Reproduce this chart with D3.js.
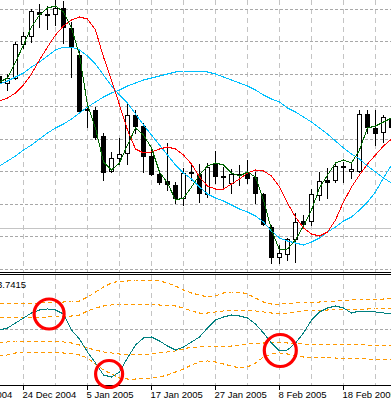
<!DOCTYPE html>
<html><head><meta charset="utf-8">
<script src="https://cdn.jsdelivr.net/npm/d3@7"></script>
<style>html,body{margin:0;padding:0;background:#fff;overflow:hidden}svg{display:block}</style>
</head><body><svg id="c" width="391" height="404"></svg>
<script>
// ---- data ----
const dates = ["21 Dec 2004","22 Dec 2004","23 Dec 2004","24 Dec 2004","27 Dec 2004","28 Dec 2004","29 Dec 2004","30 Dec 2004","31 Dec 2004",
"3 Jan 2005","4 Jan 2005","5 Jan 2005","6 Jan 2005","7 Jan 2005","10 Jan 2005","11 Jan 2005","12 Jan 2005","13 Jan 2005","14 Jan 2005","17 Jan 2005","18 Jan 2005","19 Jan 2005","20 Jan 2005","21 Jan 2005","24 Jan 2005","25 Jan 2005","26 Jan 2005","27 Jan 2005","28 Jan 2005","31 Jan 2005",
"1 Feb 2005","2 Feb 2005","3 Feb 2005","4 Feb 2005","7 Feb 2005","8 Feb 2005","9 Feb 2005","10 Feb 2005","11 Feb 2005","14 Feb 2005","15 Feb 2005","16 Feb 2005","17 Feb 2005","18 Feb 2005","21 Feb 2005","22 Feb 2005","23 Feb 2005","24 Feb 2005","25 Feb 2005","28 Feb 2005"];
const open  = [1.3422,1.3401,1.3416,1.3518,1.3542,1.3614,1.3608,1.3608,1.3626,1.3566,1.3485,1.3323,1.3320,1.3242,1.3137,1.3176,1.3191,1.3305,1.3272,1.3182,1.3128,1.3107,1.3095,1.3056,1.3134,1.3128,1.3068,1.3158,1.3122,1.3101,1.3128,1.3131,1.3119,1.3068,1.2969,1.2879,1.2888,1.2933,1.2987,1.2987,1.3065,1.3110,1.3110,1.3152,1.3137,1.3137,1.3308,1.3266,1.3254,1.3293];
const high  = [1.3431,1.3428,1.3524,1.3554,1.3623,1.3638,1.3632,1.3650,1.3647,1.3584,1.3500,1.3329,1.3329,1.3251,1.3194,1.3236,1.3341,1.3320,1.3281,1.3203,1.3134,1.3221,1.3104,1.3146,1.3158,1.3158,1.3161,1.3197,1.3149,1.3143,1.3155,1.3170,1.3134,1.3071,1.2975,1.2915,1.2936,1.3011,1.3005,1.3083,1.3134,1.3146,1.3164,1.3164,1.3164,1.3320,1.3320,1.3320,1.3305,1.3305];
const low   = [1.3392,1.3380,1.3413,1.3506,1.3524,1.3569,1.3563,1.3575,1.3521,1.3419,1.3314,1.3269,1.3233,1.3110,1.3134,1.3158,1.3158,1.3251,1.3134,1.3125,1.3098,1.3080,1.3041,1.3035,1.3110,1.3044,1.3059,1.3101,1.3086,1.3071,1.3095,1.3101,1.3041,1.2975,1.2861,1.2861,1.2870,1.2864,1.2975,1.2975,1.3050,1.3056,1.3104,1.3104,1.3116,1.3134,1.3251,1.3215,1.3224,1.3245];
const close = [1.3401,1.3416,1.3518,1.3542,1.3617,1.3608,1.3606,1.3626,1.3569,1.3509,1.3317,1.3321,1.3239,1.3134,1.3176,1.3188,1.3305,1.3272,1.3182,1.3128,1.3104,1.3098,1.3056,1.3131,1.3131,1.3071,1.3149,1.3122,1.3120,1.3128,1.3126,1.3116,1.3071,1.2978,1.2879,1.2891,1.2933,1.2984,1.2978,1.3068,1.3107,1.3104,1.3152,1.3150,1.3143,1.3308,1.3269,1.3251,1.3299,1.3269];
const maFast = [1.3404,1.3416,1.3464,1.3515,1.3569,1.3605,1.3626,1.3632,1.3614,1.3566,1.3485,1.3335,1.3266,1.3164,1.3140,1.3161,1.3215,1.3266,1.3245,1.3206,1.3134,1.3101,1.3050,1.3056,1.3089,1.3125,1.3152,1.3161,1.3155,1.3131,1.3122,1.3134,1.3119,1.3050,1.2960,1.2900,1.2903,1.2930,1.2972,1.3020,1.3086,1.3125,1.3161,1.3170,1.3161,1.3200,1.3266,1.3272,1.3284,1.3296];
const maRed = [1.3347,1.3356,1.3371,1.3395,1.3428,1.3470,1.3509,1.3545,1.3572,1.3590,1.3599,1.3593,1.3560,1.3479,1.3410,1.3335,1.3260,1.3203,1.3191,1.3194,1.3203,1.3209,1.3203,1.3185,1.3158,1.3119,1.3092,1.3083,1.3083,1.3098,1.3113,1.3131,1.3140,1.3137,1.3122,1.3089,1.3041,1.2999,1.2966,1.2948,1.2942,1.2954,1.2990,1.3044,1.3089,1.3125,1.3158,1.3185,1.3212,1.3233];
const maMid = [1.3398,1.3407,1.3419,1.3431,1.3449,1.3464,1.3482,1.3500,1.3509,1.3509,1.3500,1.3482,1.3458,1.3425,1.3392,1.3365,1.3341,1.3308,1.3275,1.3245,1.3215,1.3185,1.3155,1.3131,1.3113,1.3089,1.3068,1.3056,1.3047,1.3035,1.3023,1.3014,1.3002,1.2984,1.2957,1.2936,1.2927,1.2921,1.2915,1.2924,1.2936,1.2954,1.2969,1.2987,1.2999,1.3020,1.3044,1.3074,1.3116,1.3155];
const maSlow = [1.3152,1.3167,1.3182,1.3200,1.3215,1.3233,1.3251,1.3266,1.3278,1.3293,1.3311,1.3329,1.3344,1.3359,1.3371,1.3380,1.3392,1.3401,1.3410,1.3416,1.3422,1.3428,1.3434,1.3437,1.3437,1.3437,1.3434,1.3428,1.3419,1.3410,1.3401,1.3392,1.3380,1.3365,1.3353,1.3344,1.3326,1.3314,1.3299,1.3284,1.3266,1.3248,1.3227,1.3206,1.3188,1.3173,1.3152,1.3134,1.3116,1.3101];
const gridPrices = [1.3622,1.3525,1.3427,1.3330,1.3233,1.3135,1.3038,1.2941,1.2843];
const levelLine = 1.2966;
const osc = [-0.1,0.1,0.6,1.1,1.6,1.9,2.0,1.9,1.5,-0.1,-1.0,-2.3,-3.4,-4.6,-4.8,-4.3,-2.9,-1.6,-0.9,-0.8,-1.2,-1.7,-2.1,-1.8,-1.3,-0.8,0.1,0.9,1.2,1.4,1.3,1.1,0.5,-0.4,-1.4,-2.2,-2.1,-1.4,-0.4,0.9,1.7,2.1,2.3,2.1,1.6,1.8,1.8,1.7,1.6,1.5];
const band1 = [2.6,2.6,2.6,2.6,2.6,2.6,2.7,2.7,2.7,2.8,2.8,3.2,3.7,4.2,4.6,4.8,4.8,4.9,4.9,4.9,4.8,4.6,4.3,3.9,3.6,3.4,3.2,3.3,3.6,3.7,3.7,3.5,3.1,2.7,2.5,2.5,2.6,2.6,2.7,2.7,2.7,2.8,2.8,2.9,2.9,3.0,3.0,3.0,3.0,3.1];
const band2 = [1.2,1.2,1.2,1.2,1.2,1.2,1.2,1.3,1.3,1.3,1.4,1.8,2.1,2.3,2.4,2.5,2.5,2.5,2.5,2.5,2.4,2.4,2.3,2.1,1.8,1.6,1.6,1.7,1.8,1.9,1.9,1.9,1.8,1.7,1.6,1.6,1.6,1.7,1.8,1.9,1.9,1.9,2.0,2.0,2.0,2.0,2.0,2.1,2.1,2.1];
const band3 = [-1.4,-1.3,-1.2,-1.2,-1.2,-1.2,-1.2,-1.2,-1.3,-1.4,-1.6,-1.9,-2.1,-2.3,-2.4,-2.5,-2.5,-2.5,-2.5,-2.5,-2.4,-2.3,-2.2,-2.0,-1.8,-1.8,-1.7,-1.7,-1.7,-1.7,-1.6,-1.5,-1.4,-1.4,-1.3,-1.3,-1.4,-1.4,-1.5,-1.5,-1.5,-1.5,-1.5,-1.5,-1.5,-1.5,-1.6,-1.6,-1.6,-1.6];
const band4 = [-2.7,-2.6,-2.4,-2.3,-2.3,-2.3,-2.3,-2.3,-2.4,-2.4,-2.6,-2.9,-3.5,-4.1,-4.5,-4.9,-5.0,-5.0,-4.9,-4.9,-4.8,-4.6,-4.3,-4.0,-3.6,-3.3,-3.2,-3.3,-3.5,-3.7,-3.9,-3.8,-3.4,-2.8,-2.5,-2.4,-2.5,-2.7,-2.8,-2.8,-2.8,-2.8,-2.9,-2.9,-2.9,-2.9,-3.0,-3.0,-3.0,-3.0];
const oscLabel = "3.7415";
const tickIdx = [-5,3,11,19,27,35,43];
const tickLabels = ["14 Dec 2004","24 Dec 2004","5 Jan 2005","17 Jan 2005","27 Jan 2005","8 Feb 2005","18 Feb 2005"];
const markIdx = [6.2,13.7,35.1];
const markVal = [1.5,-4.5,-2.15];

// ---- drawing ----
const svg = d3.select("#c");
const x = d3.scaleLinear().domain([0,49]).range([-0.5,391.5]);
const y = d3.scaleLinear().domain([1.3650,1.2834]).range([0,272]);
const yL = d3.scaleLinear().domain([5.4,-5.6]).range([275,385]);
const crisp = v => Math.round(v - 0.5) + 0.5;

const defs = svg.append("defs");
defs.append("clipPath").attr("id","cm").append("rect").attr("x",0).attr("y",0).attr("width",391).attr("height",272);
defs.append("clipPath").attr("id","cl").append("rect").attr("x",0).attr("y",275).attr("width",391).attr("height",110);

const main = svg.append("g").attr("clip-path","url(#cm)");
const sub = svg.append("g").attr("clip-path","url(#cl)");

// vertical grid
const vIdx = d3.range(3,50,4);
[[main,0,272],[sub,275,385]].forEach(([g,y0,y1])=>{
  g.selectAll(null).data(vIdx).enter().append("line")
    .attr("x1",d=>crisp(x(d))).attr("x2",d=>crisp(x(d)))
    .attr("y1",y0).attr("y2",y1)
    .attr("stroke","#c4c4c4").attr("stroke-dasharray","5,4");
});
// horizontal grid
main.selectAll(null).data(gridPrices).enter().append("line")
  .attr("x1",0).attr("x2",391)
  .attr("y1",d=>crisp(y(d))).attr("y2",d=>crisp(y(d)))
  .attr("stroke","#a8a8a8").attr("stroke-dasharray","3,2");
sub.append("line").attr("x1",0).attr("x2",391)
  .attr("y1",crisp(yL(0))).attr("y2",crisp(yL(0)))
  .attr("stroke","#a8a8a8").attr("stroke-dasharray","3,2");
// level line
main.append("line").attr("x1",0).attr("x2",391)
  .attr("y1",crisp(y(levelLine))).attr("y2",crisp(y(levelLine)))
  .attr("stroke","#c4c4c4");

// candles
const idx = d3.range(dates.length);
const cg = main.append("g");
idx.forEach(i=>{
  const cx = crisp(x(i));
  cg.append("line").attr("x1",cx).attr("x2",cx)
    .attr("y1",Math.round(y(high[i]))).attr("y2",Math.round(y(low[i]))+1)
    .attr("stroke","#000");
  const yo = Math.round(y(open[i])), yc = Math.round(y(close[i]));
  const top = Math.min(yo,yc), bot = Math.max(yo,yc);
  if (bot - top < 1) {
    cg.append("line").attr("x1",cx-2.5).attr("x2",cx+2.5)
      .attr("y1",top+0.5).attr("y2",top+0.5).attr("stroke","#000");
  } else {
    cg.append("rect").attr("x",cx-2).attr("y",top+0.5)
      .attr("width",4).attr("height",bot-top)
      .attr("fill", close[i] > open[i] ? "#fff" : "#000")
      .attr("stroke","#000");
  }
});

// moving averages
const lineMain = arr => d3.line().x(i=>x(i)).y(i=>y(arr[i]))(idx);
[[maSlow,"#00c0ff"],[maMid,"#00c0ff"],[maRed,"#ff0000"],[maFast,"#006400"]].forEach(([arr,col])=>{
  main.append("path").attr("d",lineMain(arr)).attr("fill","none").attr("stroke",col)
    .attr("stroke-width",1).attr("shape-rendering","crispEdges");
});

// lower panel
const lineSub = arr => d3.line().x(i=>x(i)).y(i=>yL(arr[i]))(idx);
[band1,band2,band3,band4].forEach(arr=>{
  sub.append("path").attr("d",lineSub(arr)).attr("fill","none")
    .attr("stroke","#ff9900").attr("stroke-dasharray","4,3").attr("shape-rendering","crispEdges");
});
sub.append("path").attr("d",lineSub(osc)).attr("fill","none").attr("stroke","#008080")
  .attr("shape-rendering","crispEdges");

// separators / axis
svg.append("line").attr("x1",0).attr("x2",391).attr("y1",272.5).attr("y2",272.5).attr("stroke","#000");
svg.append("line").attr("x1",0).attr("x2",391).attr("y1",274.5).attr("y2",274.5).attr("stroke","#000");
svg.append("line").attr("x1",0).attr("x2",391).attr("y1",385.5).attr("y2",385.5).attr("stroke","#000");

svg.append("text").attr("x",-3).attr("y",288).text(oscLabel)
  .attr("font-family","'Liberation Sans',Arial,sans-serif").attr("font-size","9.5px").attr("fill","#000");

// time axis
const tg = svg.append("g");
tickIdx.forEach((t,k)=>{
  const tx = crisp(x(t));
  tg.append("line").attr("x1",tx).attr("x2",tx).attr("y1",386).attr("y2",390).attr("stroke","#000");
  tg.append("text").attr("x",tx-1).attr("y",398).text(tickLabels[k])
    .attr("font-family","'Liberation Sans',Arial,sans-serif").attr("font-size","9.5px").attr("fill","#000");
});

// annotation circles
const rad = [15,13.5,16];
svg.selectAll(null).data(markIdx).enter().append("circle")
  .attr("cx",(d,k)=>x(d)).attr("cy",(d,k)=>yL(markVal[k]))
  .attr("r",(d,k)=>rad[k]).attr("fill","none").attr("stroke","#ff0000").attr("stroke-width",3.2);
</script>
</body></html>
